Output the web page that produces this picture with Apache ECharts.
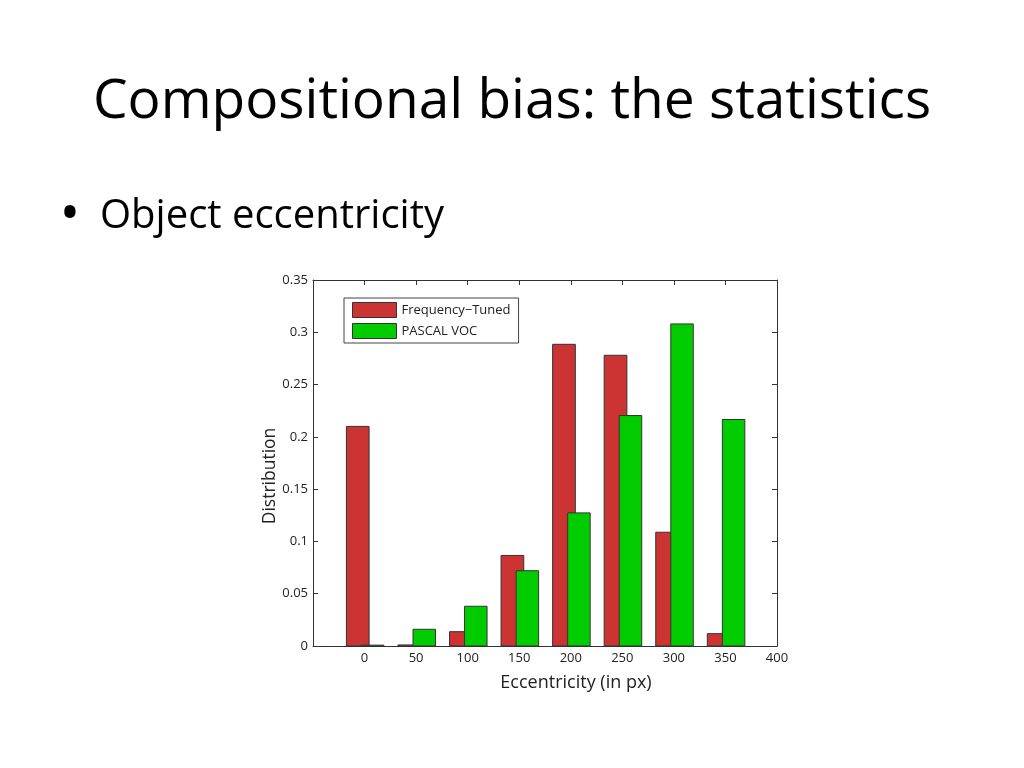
<!DOCTYPE html>
<html>
<head>
<meta charset="utf-8">
<script src="https://cdn.jsdelivr.net/npm/echarts@6/dist/echarts.min.js"></script>
<style>html,body{margin:0;padding:0;background:#fff;}#c{width:1024px;height:768px;}</style>
</head>
<body>
<div id="c"></div>
<script>
var eccentricity = [0, 50, 100, 150, 200, 250, 300, 350];
var frequencyTuned = [0.210, 0.001, 0.0137, 0.0866, 0.2885, 0.278, 0.1088, 0.0118];
var pascalVoc = [0.0008, 0.016, 0.038, 0.072, 0.1273, 0.2204, 0.308, 0.2166];
var seriesNames = ['Frequency\u2212Tuned', 'PASCAL VOC'];
var xTicks = [-50, 0, 50, 100, 150, 200, 250, 300, 350, 400];
var titleText = 'Compositional bias: the statistics';
var bulletText = 'Object eccentricity';
var xName = 'Eccentricity (in px)';
var yName = 'Distribution';

var chart = echarts.init(document.getElementById('c'));
var font = 'Open Sans';

function makeRender(off0, off1) {
  return function (params, api) {
    var x = api.value(0), v = api.value(1);
    var p0 = api.coord([x + off0, v]);
    var p1 = api.coord([x + off1, 0]);
    return {
      type: 'rect',
      shape: { x: p0[0], y: p0[1], width: p1[0] - p0[0], height: p1[1] - p0[1] },
      style: api.style()
    };
  };
}

function axisBase() {
  return {
    type: 'value',
    axisLine: { show: true, onZero: false, lineStyle: { color: '#333', width: 1 } },
    axisTick: { show: true, inside: true, length: 5, lineStyle: { color: '#333' } },
    splitLine: { show: false }
  };
}

chart.setOption({
  animation: false,
  backgroundColor: '#fff',
  graphic: [
    { type: 'text', left: 'center', top: 75, style: { text: titleText, font: '55px "Open Sans"', fill: '#000' } },
    { type: 'text', x: 70, y: 190, style: { text: '\u2022', font: '54px "Open Sans"', fill: '#000', textAlign: 'center', textVerticalAlign: 'top' } },
    { type: 'text', x: 100, y: 197, style: { text: bulletText, font: '40px "Open Sans"', fill: '#000', textAlign: 'left', textVerticalAlign: 'top' } },
    { type: 'text', x: 576, y: 674, style: { text: xName, font: '18px "Open Sans"', fill: '#222', textAlign: 'center', textVerticalAlign: 'top' } },
    { type: 'text', x: 270, y: 476, rotation: Math.PI / 2, style: { text: yName, font: '17.5px "Open Sans"', fill: '#222', textAlign: 'center', textVerticalAlign: 'middle' } }
  ],
  grid: { left: 313, right: 247, top: 280, bottom: 122 },
  legend: {
    orient: 'vertical',
    left: 344,
    top: 298,
    padding: [4, 8, 4, 8],
    itemGap: 5,
    itemWidth: 44,
    itemHeight: 15,
    icon: 'rect',
    borderColor: '#444',
    borderWidth: 1,
    backgroundColor: '#fff',
    textStyle: { fontFamily: font, fontSize: 13, color: '#222' },
    itemStyle: { borderColor: '#333', borderWidth: 1 },
    data: seriesNames
  },
  xAxis: [
    Object.assign(axisBase(), {
      position: 'bottom', min: xTicks[0], max: xTicks[xTicks.length - 1], interval: 50,
      axisLabel: { fontFamily: font, fontSize: 13, color: '#222', margin: 6,
        formatter: function (v) { return v < 0 ? '' : String(v); } }
    }),
    Object.assign(axisBase(), {
      position: 'top', min: xTicks[0], max: xTicks[xTicks.length - 1], interval: 50,
      axisLabel: { show: false }
    })
  ],
  yAxis: [
    Object.assign(axisBase(), {
      position: 'left', min: 0, max: 0.35, interval: 0.05,
      axisLabel: { fontFamily: font, fontSize: 13, color: '#222', margin: 5 }
    }),
    Object.assign(axisBase(), {
      position: 'right', min: 0, max: 0.35, interval: 0.05,
      axisLabel: { show: false }
    })
  ],
  series: [
    {
      name: seriesNames[0], type: 'custom', xAxisIndex: 0, yAxisIndex: 0,
      renderItem: makeRender(-17.6, 4.4),
      itemStyle: { color: '#CC3333', borderColor: '#333', borderWidth: 1 },
      encode: { x: 0, y: 1 },
      data: eccentricity.map(function (x, i) { return [x, frequencyTuned[i]]; })
    },
    {
      name: seriesNames[1], type: 'custom', xAxisIndex: 0, yAxisIndex: 0,
      renderItem: makeRender(-3, 18.8),
      itemStyle: { color: '#00CC00', borderColor: '#333', borderWidth: 1 },
      encode: { x: 0, y: 1 },
      data: eccentricity.map(function (x, i) { return [x, pascalVoc[i]]; })
    }
  ]
});
</script>
</body>
</html>
